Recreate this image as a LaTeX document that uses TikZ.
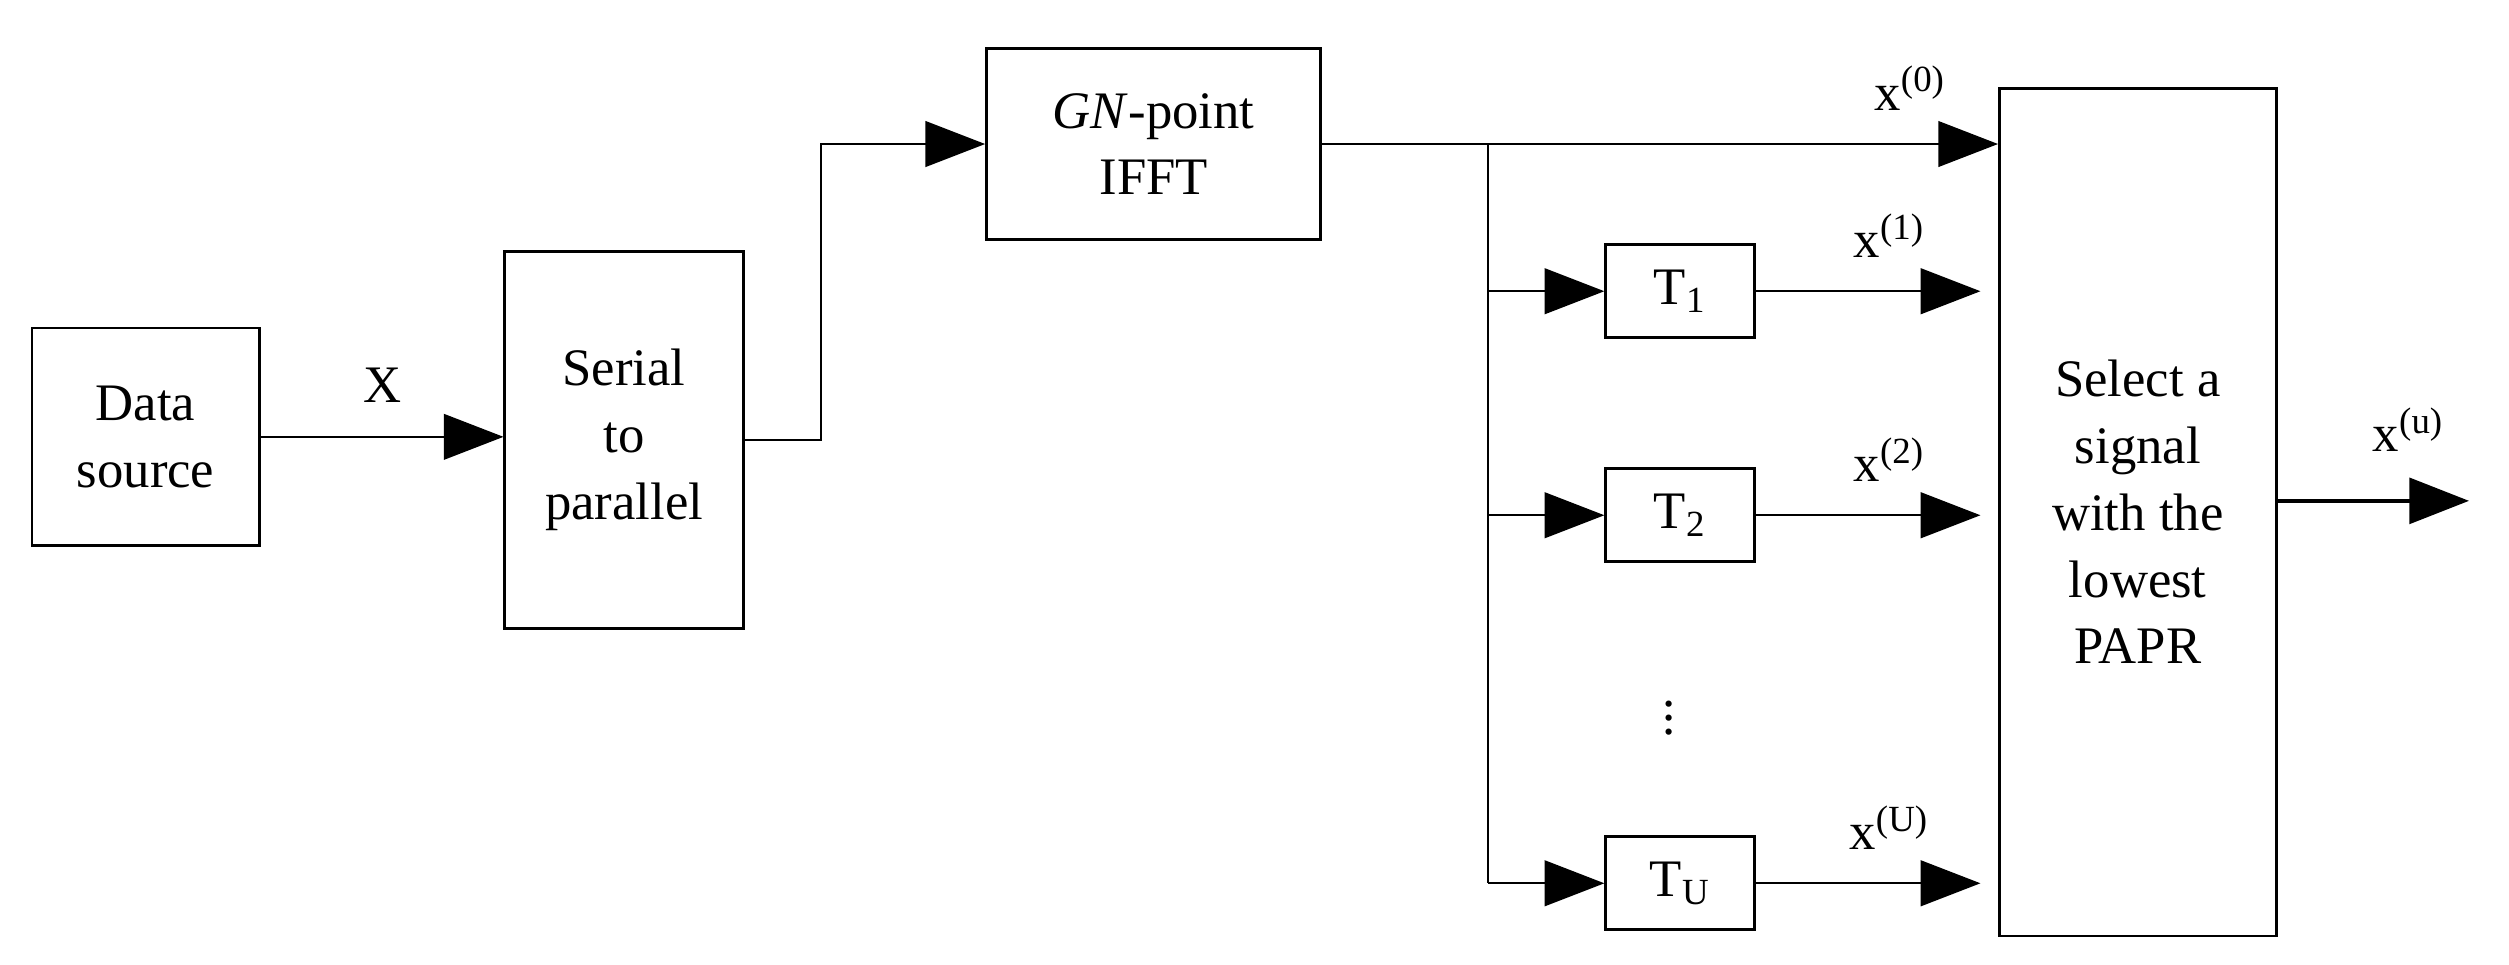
\documentclass[tikz,border=0pt]{standalone}
\usepackage{fontspec}
\setmainfont{Liberation Serif}
\usetikzlibrary{arrows.meta,positioning}
\tikzset{
    blk/.style={draw, thick, align=center, inner sep=0pt},
    tri/.style={-{Triangle[length=17pt,width=13pt]}},
    font={\fontsize{15pt}{19pt}\selectfont},
}
\begin{document}
\begin{tikzpicture}[x=0.016cm, y=-0.016cm, semithick]
\useasboundingbox (0,0) rectangle (1568,603);

\node [blk, minimum width=142*0.16mm, minimum height=136*0.16mm] (source) at (91,273) {Data\\source};
\node [blk, minimum width=149*0.16mm, minimum height=236*0.16mm] (sp) at (390,275) {Serial\\to\\parallel};
\node [blk, minimum width=209*0.16mm, minimum height=119*0.16mm] (ifft) at (721,90) {\textit{GN}-point\\IFFT};
\node [blk, minimum width=173*0.16mm, minimum height=530*0.16mm] (sel) at (1336,320) {Select a\\signal\\with the\\lowest\\PAPR};

\foreach \n/\s/\y in {t1/1/182, t2/2/322, tu/U/552}
  \node [blk, minimum width=93*0.16mm, minimum height=58*0.16mm] (\n) at (1050,\y) {T\textsubscript{\s}};
\node (dots) at (1043,442) {$\vdots$};

% feed
\draw [tri] (source.east) -- node [above=6pt] {X} (sp.west |- source.east);
\coordinate (up) at (513,275);
\draw [tri] (sp.east |- up) -- (up) |- (ifft.west);
\coordinate (split) at (930,90);
\draw [tri] (ifft.east) -- (sel.west |- ifft.east)
  node [pos=0.87, above=6pt] {x\textsuperscript{(0)}};
\draw (split) -- (split |- tu);
\foreach \n in {t1, t2, tu}
  \draw [tri] (split |- \n) -- (\n.west);

% branches
\foreach \n/\l in {t1/1, t2/2, tu/U}
  \draw [tri] (\n.east) -- ([xshift=-5pt]sel.west |- \n)
    node [midway, above=6pt, xshift=6pt] {x\textsuperscript{(\l)}};

\coordinate (out) at (1543,313);
\draw [tri, very thick] (sel.east |- out) -- (out)
  node [midway, above=10pt, xshift=10pt] {x\textsuperscript{(u)}};
\end{tikzpicture}
\end{document}
